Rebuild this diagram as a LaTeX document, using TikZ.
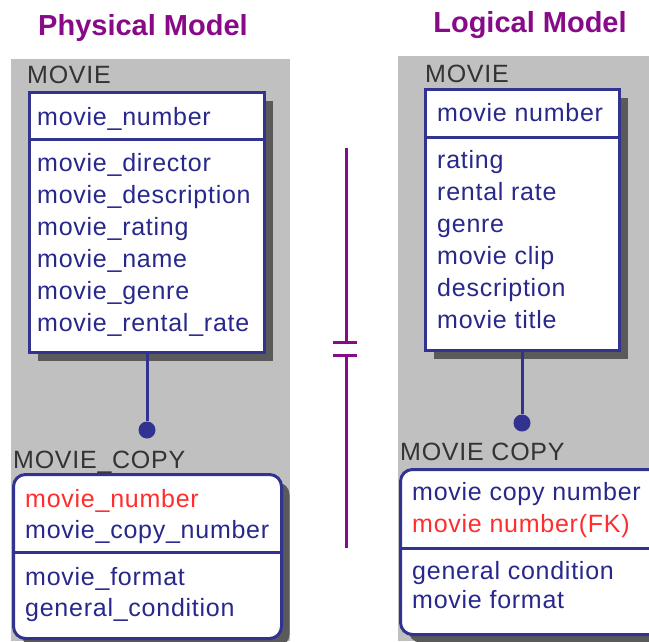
\documentclass[tikz,border=0pt]{standalone}
\usepackage{fontspec}
\setmainfont{Liberation Sans}
\usetikzlibrary{positioning,shadows}
\definecolor{panelgray}{RGB}{192,192,192}
\definecolor{boxblue}{RGB}{50,50,145}
\definecolor{txtblue}{RGB}{40,40,140}
\definecolor{keyred}{RGB}{255,45,45}
\definecolor{titlepurple}{RGB}{136,10,136}
\definecolor{shadowgray}{RGB}{90,90,90}
\tikzset{
  panel/.style={fill=panelgray,draw=none},
  entbox/.style={draw=boxblue,line width=3pt,fill=white,anchor=north west,inner sep=0pt,
    drop shadow={shadow xshift=8pt,shadow yshift=-8pt,fill=shadowgray,opacity=1}},
  sepline/.style={draw=boxblue,line width=3pt},
  attr/.style={anchor=west,inner sep=0pt,text height=12pt,text depth=0pt,text=txtblue,
    font=\fontsize{25}{28}\selectfont\addfontfeature{LetterSpace=3}},
  fkattr/.style={attr,text=keyred},
  entname/.style={anchor=west,inner sep=0pt,text height=12pt,text depth=0pt,text=black!80,
    font=\fontsize{25}{28}\selectfont\addfontfeature{LetterSpace=3}},
  title/.style={inner sep=0pt,text=titlepurple,font=\fontsize{29}{32}\selectfont\bfseries},
  dot/.style={circle,fill=boxblue,inner sep=0pt,minimum size=17pt},
  conn/.style={draw=boxblue,line width=3pt},
  divline/.style={draw=titlepurple,line width=3pt}
}
\begin{document}
\begin{tikzpicture}[x=1pt,y=-1pt]
    \useasboundingbox (0,0) rectangle (649,641);
    % titles
    \node[title] (ptitle) at (143,28) {Physical Model};
    \node[title] (ltitle) at (530,25) {Logical Model};

    % gray panels
    \fill[panel] (11,59) rectangle (290,641);
    \fill[panel] (398,56) rectangle (649,641);

    % physical model
    \node[entname] (pmname) at (27,77) {MOVIE};
    \node[entbox,minimum width=235pt,minimum height=260pt] (pmovie) at (28,91) {};
    \draw[sepline] (pmovie.west |- 0,139) -- (pmovie.east |- 0,139);
    \node[attr] (pm0) at (37,119) {movie\_number};
    \foreach \t [count=\i] in {movie\_director,movie\_description,movie\_rating,
        movie\_name,movie\_genre,movie\_rental\_rate}
      \node[attr] (pm\i) at (37,133+32*\i) {\t};

    \node[dot] (pdot) at (147,430) {};
    \draw[conn] (pdot |- pmovie.south) -- (pdot);

    \node[entname] (pcname) at (13,462) {MOVIE\_COPY};
    \node[entbox,rounded corners=12pt,minimum width=268pt,minimum height=164pt] (pcopy) at (12,473) {};
    \draw[sepline] (pcopy.west |- 0,552) -- (pcopy.east |- 0,552);
    \node[fkattr] (pc1) at (25,501) {movie\_number};
    \node[attr] (pc2) at (25,532) {movie\_copy\_number};
    \node[attr] (pc3) at (25,579) {movie\_format};
    \node[attr] (pc4) at (25,610) {general\_condition};

    % divider between the two models
    \coordinate (dtop) at (346,148);
    \coordinate (dbot) at (346,548);
    \draw[divline] (dtop) -- (dtop |- 0,342);
    \draw[divline] (333,342) -- (357,342);
    \draw[divline] (333,355) -- (357,355);
    \draw[divline] (dbot |- 0,355) -- (dbot);

    % logical model
    \node[entname] (lmname) at (425,76) {MOVIE};
    \node[entbox,minimum width=194pt,minimum height=261pt] (lmovie) at (424,88) {};
    \draw[sepline] (lmovie.west |- 0,137) -- (lmovie.east |- 0,137);
    \node[attr] (lm0) at (437,115) {movie number};
    \foreach \t [count=\i] in {rating,rental rate,genre,movie clip,description,movie title}
      \node[attr] (lm\i) at (437,130+32*\i) {\t};

    \node[dot] (ldot) at (522,423) {};
    \draw[conn] (ldot |- lmovie.south) -- (ldot);

    \node[entname] (lcname) at (400,454) {MOVIE COPY};
    \node[entbox,rounded corners=12pt,minimum width=270pt,minimum height=165pt] (lcopy) at (399,468) {};
    \draw[sepline] (lcopy.west |- 0,548) -- (lcopy.east |- 0,548);
    \node[attr] (lc1) at (412,494) {movie copy number};
    \node[fkattr] (lc2) at (412,526) {movie number(FK)};
    \node[attr] (lc3) at (412,573) {general condition};
    \node[attr] (lc4) at (412,602) {movie format};
\end{tikzpicture}
\end{document}
